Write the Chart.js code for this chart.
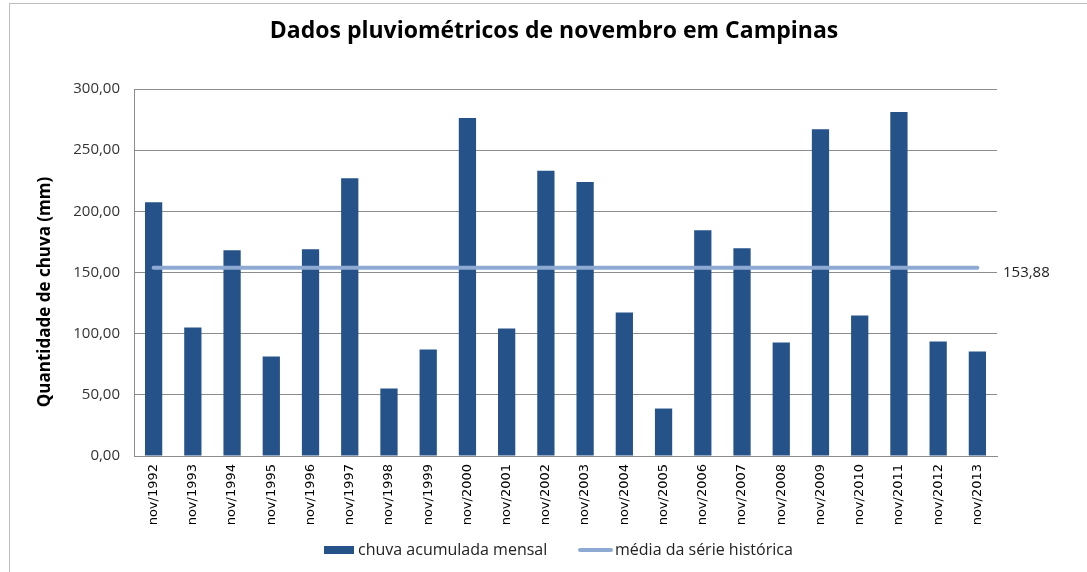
<!DOCTYPE html>
<html>
<head>
<meta charset="utf-8">
<script src="https://cdn.jsdelivr.net/npm/chart.js@4.4.0/dist/chart.umd.min.js"></script>
<style>
  html, body { margin: 0; padding: 0; background: #fff; overflow: hidden; }
  #wrap { position: relative; width: 1087px; height: 572px; }
  #frame { position: absolute; left: 9px; top: 3px; width: 1100px; height: 600px; border: 1px solid #bdbdbd; box-sizing: border-box; pointer-events: none; }
  canvas { position: absolute; left: 0; top: 0; }
</style>
</head>
<body>
<div id="wrap">
  <div id="frame"></div>
  <canvas id="c" width="1087" height="572"></canvas>
</div>
<script>
const categories = ["nov/1992","nov/1993","nov/1994","nov/1995","nov/1996","nov/1997","nov/1998","nov/1999","nov/2000","nov/2001","nov/2002","nov/2003","nov/2004","nov/2005","nov/2006","nov/2007","nov/2008","nov/2009","nov/2010","nov/2011","nov/2012","nov/2013"];
const chuvaAcumulada = [207.5,105.1,168.2,81.4,169.0,227.1,55.2,87.1,276.3,104.3,233.1,223.9,117.4,38.8,184.6,169.8,92.8,267.2,114.9,281.1,93.6,85.5];
const mediaHistorica = 153.88;
const mediaSerie = categories.map(() => mediaHistorica);
const yTicks = [0, 50, 100, 150, 200, 250, 300];
const chartTitle = 'Dados pluviométricos de novembro em Campinas';
const yTitle = 'Quantidade de chuva (mm)';

const fmt = v => v.toFixed(2).replace('.', ',');
const BAR = '#26528a';
const LINE = '#8eaad2';
const CAL = '"Open Sans", Lato, sans-serif';

const extraText = {
  id: 'extraText',
  afterDraw(chart) {
    const ctx = chart.ctx;
    ctx.save();
    // title
    ctx.font = 'bold 23px ' + CAL;
    ctx.fillStyle = '#000';
    ctx.textAlign = 'center';
    ctx.textBaseline = 'middle';
    ctx.fillText(chartTitle, 554, 31);
    // y axis title
    ctx.save();
    ctx.translate(45, 292);
    ctx.rotate(-Math.PI / 2);
    ctx.font = 'bold 17px ' + CAL;
    ctx.fillText(yTitle, 0, 0);
    ctx.restore();
    // mean label
    const meta = chart.getDatasetMeta(1);
    const pt = meta.data[meta.data.length - 1];
    ctx.font = '15px ' + CAL;
    ctx.fillStyle = '#222';
    ctx.textAlign = 'left';
    ctx.fillText(fmt(mediaHistorica), chart.chartArea.right + 6, pt.y + 5);
    // legend
    const ds = chart.data.datasets;
    const ly = 550;
    ctx.font = '16px ' + CAL;
    ctx.fillStyle = ds[0].backgroundColor;
    ctx.fillRect(324, ly - 4, 30, 8);
    ctx.fillStyle = '#222';
    ctx.fillText(ds[0].label, 358, ly);
    ctx.strokeStyle = ds[1].borderColor;
    ctx.lineWidth = 4;
    ctx.lineCap = 'round';
    ctx.beginPath();
    ctx.moveTo(580, ly);
    ctx.lineTo(611, ly);
    ctx.stroke();
    ctx.fillText(ds[1].label, 615, ly);
    ctx.restore();
  }
};

new Chart(document.getElementById('c'), {
  data: {
    labels: categories,
    datasets: [
      {
        type: 'bar',
        label: 'chuva acumulada mensal',
        data: chuvaAcumulada,
        backgroundColor: BAR,
        borderWidth: 0,
        barPercentage: 0.44,
        categoryPercentage: 1.0,
        order: 2
      },
      {
        type: 'line',
        label: 'média da série histórica',
        data: mediaSerie,
        borderColor: LINE,
        backgroundColor: LINE,
        borderWidth: 4,
        borderCapStyle: 'round',
        pointRadius: 0,
        pointHoverRadius: 0,
        fill: false,
        order: 1
      }
    ]
  },
  options: {
    responsive: false,
    animation: false,
    events: [],
    layout: { padding: { left: 10, right: 90, top: 89, bottom: 36 } },
    plugins: {
      title: { display: false },
      legend: { display: false },
      tooltip: { enabled: false }
    },
    scales: {
      x: {
        grid: { display: false, drawTicks: false },
        border: { color: '#8c8c8c', width: 1 },
        ticks: {
          color: '#000',
          font: { family: '"DejaVu Sans", Verdana, sans-serif', size: 13 },
          minRotation: 90,
          maxRotation: 90,
          autoSkip: false,
          padding: 8
        },
        afterFit(scale) { scale.height = 80; }
      },
      y: {
        min: 0,
        max: 300,
        afterBuildTicks(scale) { scale.ticks = yTicks.map(v => ({ value: v })); },
        grid: { color: '#8c8c8c', lineWidth: 1, drawTicks: false },
        border: { color: '#8c8c8c', width: 1 },
        ticks: {
          color: '#333',
          font: { family: CAL, size: 15 },
          padding: 14,
          callback: v => fmt(v)
        },
        afterFit(scale) { scale.width = 124; }
      }
    }
  },
  plugins: [extraText]
});
</script>
</body>
</html>
